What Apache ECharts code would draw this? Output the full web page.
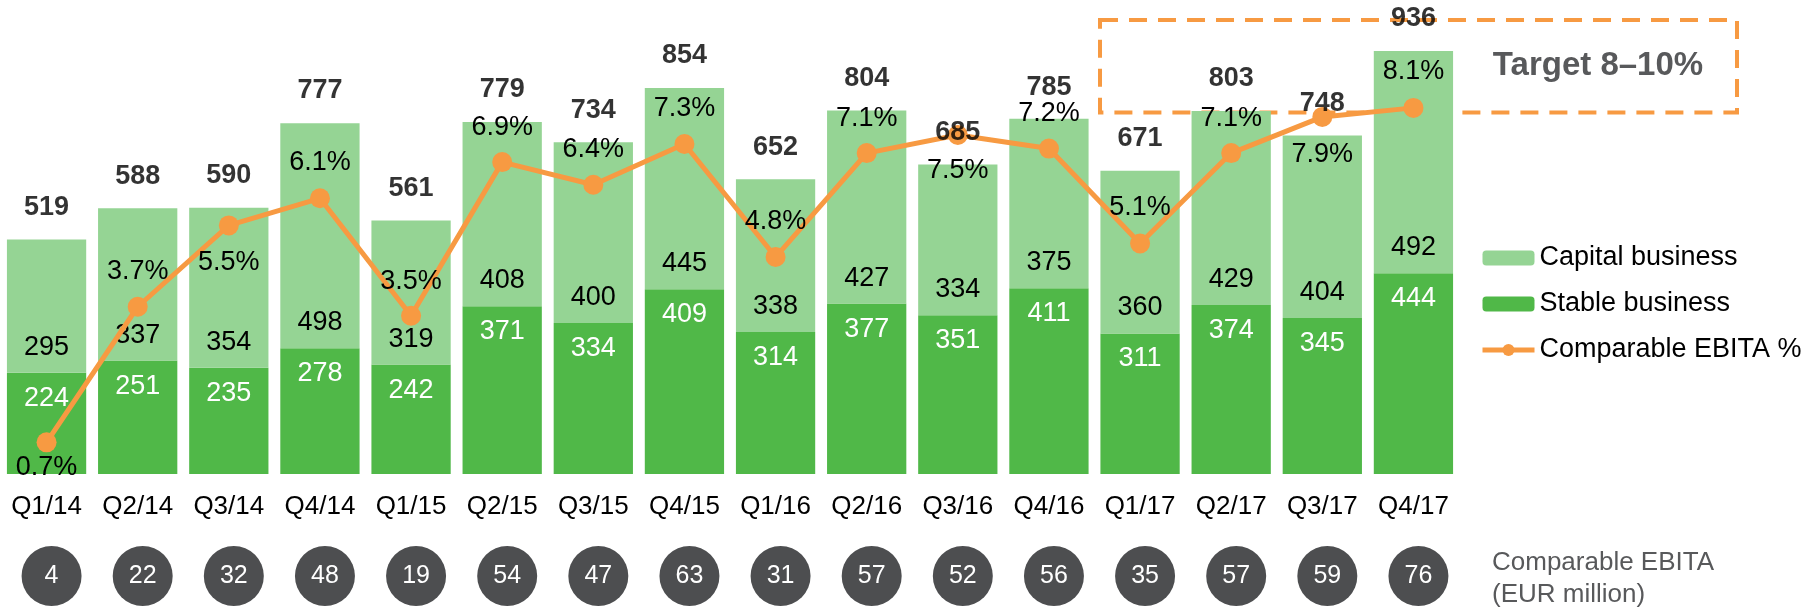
<!DOCTYPE html>
<html>
<head>
<meta charset="utf-8">
<script src="https://cdn.jsdelivr.net/npm/echarts@6/dist/echarts.min.js"></script>
<style>
html, body { margin: 0; padding: 0; background: #fff; }
#chart { width: 1806px; height: 608px; }
</style>
</head>
<body>
<div id="chart"></div>
<script>
var categories = ['Q1/14', 'Q2/14', 'Q3/14', 'Q4/14', 'Q1/15', 'Q2/15', 'Q3/15', 'Q4/15',
	'Q1/16', 'Q2/16', 'Q3/16', 'Q4/16', 'Q1/17', 'Q2/17', 'Q3/17', 'Q4/17'];
var stable = [224, 251, 235, 278, 242, 371, 334, 409, 314, 377, 351, 411, 311, 374, 345, 444];
var capital = [295, 337, 354, 498, 319, 408, 400, 445, 338, 427, 334, 375, 360, 429, 404, 492];
var totals = [519, 588, 590, 777, 561, 779, 734, 854, 652, 804, 685, 785, 671, 803, 748, 936];
var ebitaPct = [0.7, 3.7, 5.5, 6.1, 3.5, 6.9, 6.4, 7.3, 4.8, 7.1, 7.5, 7.2, 5.1, 7.1, 7.9, 8.1];
var ebita = [4, 22, 32, 48, 19, 54, 47, 63, 31, 57, 52, 56, 35, 57, 59, 76];
var target = [8, 10];

// vertical shift of each % label from its point (px)
var pctLabelDy = [25, -35, 37, -36, -34, -35, -35, -35, -35, -35, 36, -35, -36, -35, 38, -36];

var FONT = '"Liberation Sans", Arial, sans-serif';
var ORANGE = '#f79a42';

var chart = echarts.init(document.getElementById('chart'));

var pctData = [];
for (var i = 0; i < ebitaPct.length; i++) {
	pctData.push({
		value: ebitaPct[i],
		label: { offset: [0, pctLabelDy[i]] }
	});
}
var circleData = [];
for (var j = 0; j < ebita.length; j++) {
	circleData.push([j, 0, ebita[j]]);
}

chart.setOption({
	animation: false,
	textStyle: { fontFamily: FONT },
	grid: [
		{ left: 1, width: 1458, top: 22, bottom: 134 },
		{ left: 6, width: 1458, top: 546, height: 60 }
	],
	legend: {
		orient: 'vertical',
		left: 1475,
		top: 238,
		itemWidth: 52,
		itemHeight: 15,
		itemGap: 16,
		selectedMode: false,
		lineStyle: { width: 5 },
		textStyle: { fontSize: 27, color: '#000', fontFamily: FONT, lineHeight: 30 },
		data: ['Capital business', 'Stable business', 'Comparable EBITA %']
	},
	xAxis: [{
		type: 'category',
		gridIndex: 0,
		data: categories,
		axisLine: { show: false },
		axisTick: { show: false },
		axisLabel: { interval: 0, fontSize: 26, color: '#000', margin: 20, fontFamily: FONT }
	}, {
		type: 'category',
		gridIndex: 1,
		data: categories,
		show: false
	}],
	yAxis: [
		{ type: 'value', gridIndex: 0, min: 0, max: 1000, show: false },
		{ type: 'value', gridIndex: 0, min: 0, max: 10, show: false },
		{ type: 'value', gridIndex: 1, min: -1, max: 1, show: false }
	],
	series: [{
		name: 'Stable business',
		type: 'bar',
		stack: 'sales',
		barCategoryGap: '13%',
		data: stable,
		itemStyle: { color: '#50b848' },
		label: {
			show: true,
			position: 'insideTop',
			distance: 12,
			color: '#fff',
			fontSize: 27,
			textBorderWidth: 0
		}
	}, {
		name: 'Capital business',
		type: 'bar',
		stack: 'sales',
		data: capital,
		itemStyle: { color: '#95d494' },
		label: {
			show: true,
			position: 'insideBottom',
			distance: 12,
			color: '#000',
			fontSize: 27,
			textBorderWidth: 0
		}
	}, {
		name: 'Total',
		type: 'scatter',
		data: totals,
		symbolSize: 1,
		itemStyle: { color: 'rgba(0,0,0,0)' },
		label: {
			show: true,
			position: 'top',
			distance: 18,
			color: '#000',
			fontSize: 27,
			fontWeight: 'bold'
		},
		z: 5
	}, {
		name: 'Comparable EBITA %',
		type: 'line',
		yAxisIndex: 1,
		data: pctData,
		symbol: 'circle',
		symbolSize: 20,
		lineStyle: { color: ORANGE, width: 5 },
		itemStyle: { color: ORANGE },
		label: {
			show: true,
			position: 'inside',
			color: '#000',
			fontSize: 27,
			formatter: '{c}%'
		},
		z: 4
	}, {
		name: 'EBITA',
		type: 'scatter',
		xAxisIndex: 1,
		yAxisIndex: 2,
		data: circleData,
		symbolSize: 60,
		itemStyle: { color: '#4d4e50', opacity: 1 },
		label: {
			show: true,
			position: 'inside',
			color: '#fff',
			fontSize: 25,
			textBorderWidth: 0,
			formatter: function (p) { return p.value[2]; }
		}
	}]
});

var yTop = chart.convertToPixel({ yAxisIndex: 1 }, target[1]);
var yBot = chart.convertToPixel({ yAxisIndex: 1 }, target[0]);

chart.setOption({
	graphic: [{
		type: 'rect',
		shape: { x: 1100, y: yTop - 2, width: 637, height: yBot - yTop + 2 },
		style: { fill: 'none', stroke: ORANGE, lineWidth: 4, lineDash: [18, 11] },
		z: 1
	}, {
		type: 'text',
		x: 1598,
		y: (yTop + yBot) / 2 - 1,
		style: {
			text: 'Target 8–10%',
			font: 'bold 33px ' + FONT,
			fill: '#58595b',
			align: 'center',
			verticalAlign: 'middle'
		}
	}, {
		type: 'text',
		x: 1492,
		y: 547,
		style: {
			text: 'Comparable EBITA\n(EUR million)',
			font: '26px ' + FONT,
			lineHeight: 32,
			fill: '#58595b'
		}
	}]
});

window.onresize = chart.resize;
</script>
</body>
</html>
